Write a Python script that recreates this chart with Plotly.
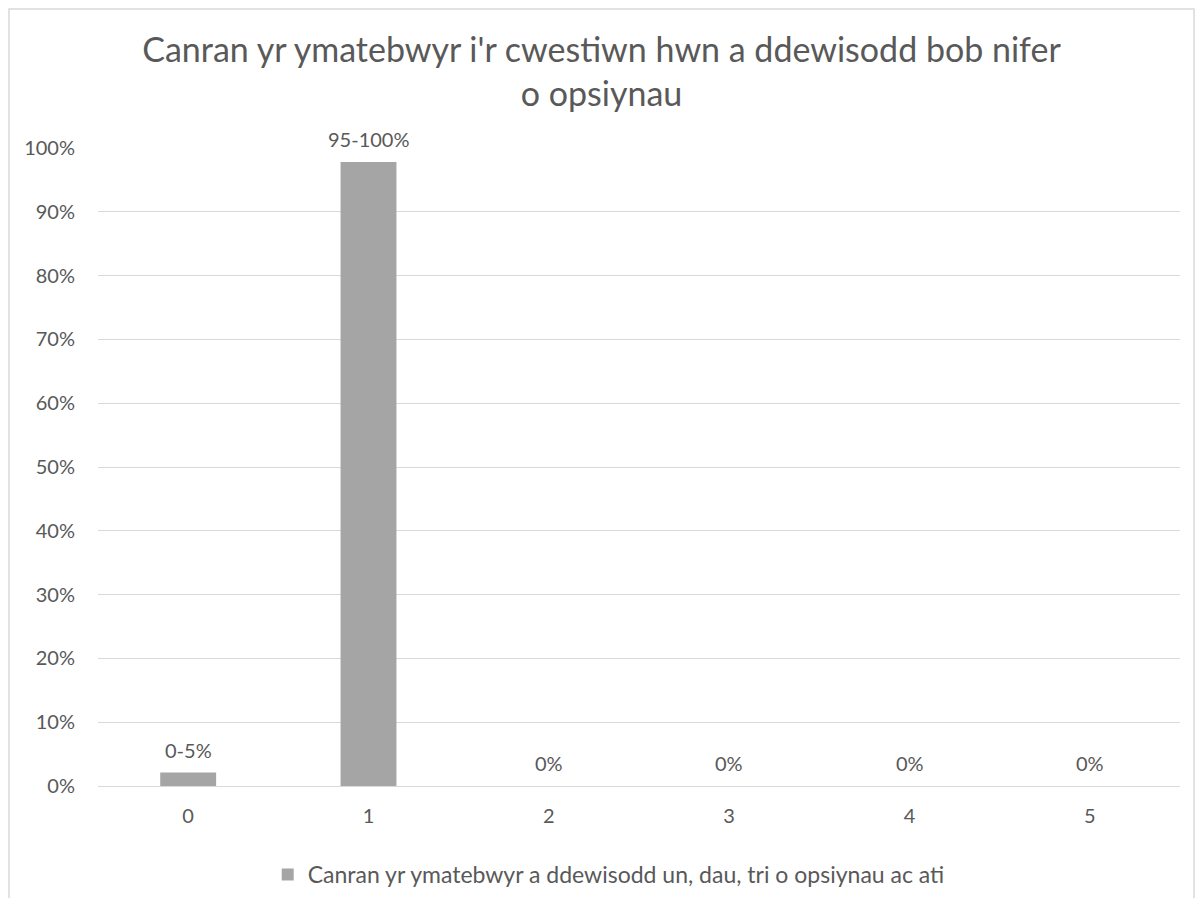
import plotly.graph_objects as go

categories = ["0", "1", "2", "3", "4", "5"]
values = [2.1, 97.8, 0, 0, 0, 0]
labels = ["0-5%", "95-100%", "0%", "0%", "0%", "0%"]
y_ticks = list(range(0, 101, 10))
y_tick_text = [f"{v}%" for v in y_ticks]
series_name = "Canran yr ymatebwyr a ddewisodd un, dau, tri o opsiynau ac ati"
title = "Canran yr ymatebwyr i'r cwestiwn hwn a ddewisodd bob nifer<br>o opsiynau"

FONT = "Lato"
TXT = "#595959"

W, H = 1187, 890
L, T, PW, PH = 90, 140, 1082, 638

fig = go.Figure()
fig.add_trace(go.Bar(
    x=categories, y=values, name=series_name,
    marker=dict(color="#A5A5A5", line=dict(width=0)),
    width=0.31, showlegend=True,
))

for c, v, t in zip(categories, values, labels):
    fig.add_annotation(x=c, y=v, text=t, showarrow=False, yanchor="bottom",
                       yshift=9, font=dict(family=FONT, size=20, color=TXT))

fig.add_shape(type="rect", xref="paper", yref="paper",
              x0=(1 - L) / PW, x1=(W - 1 - L) / PW,
              y0=-(H - T - PH + 20) / PH, y1=(PH + T - 1) / PH,
              line=dict(color="#D9D9D9", width=1.5), layer="below")

fig.update_layout(
    width=W, height=H,
    margin=dict(l=L, r=W - L - PW, t=T, b=H - T - PH, autoexpand=False),
    paper_bgcolor="white", plot_bgcolor="white",
    title=dict(text=title, x=0.5, xanchor="center", y=1 - 54 / H, yanchor="top",
               font=dict(family=FONT, size=34, color=TXT)),
    font=dict(family=FONT, size=20, color=TXT),
    legend=dict(orientation="h", x=0.472, xanchor="center", y=-0.105, yanchor="top",
                font=dict(family=FONT, size=23, color=TXT)),
    xaxis=dict(type="category", showgrid=False, showline=False, ticks="",
               ticklabelstandoff=16,
               tickfont=dict(family=FONT, size=20, color=TXT)),
    yaxis=dict(range=[0, 100], tickvals=y_ticks, ticktext=y_tick_text,
               showgrid=True, gridcolor="#D9D9D9", gridwidth=1,
               zeroline=True, zerolinecolor="#D9D9D9", zerolinewidth=1,
               ticks="", ticklabelstandoff=22,
               tickfont=dict(family=FONT, size=20, color=TXT)),
    bargap=0.69,
)

fig.write_html("out.html")
